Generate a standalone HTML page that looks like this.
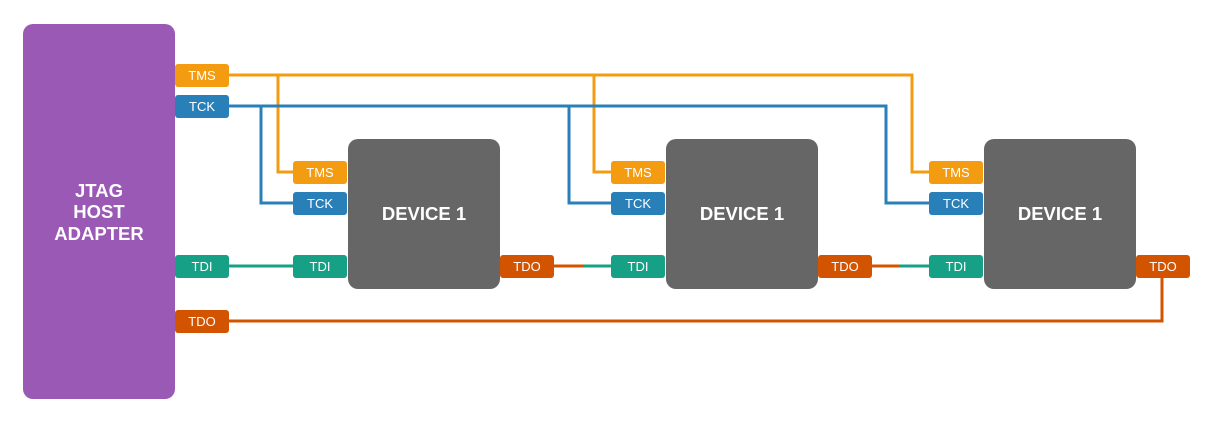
<!DOCTYPE html>
<html><head><meta charset="utf-8"><style>
body{margin:0;background:#fff;width:1210px;height:431px;overflow:hidden}
svg text{font-family:"Liberation Sans",sans-serif}
</style></head><body>
<svg width="1210" height="431" viewBox="0 0 1210 431">
<g fill="none" stroke-width="3">
<path d="M229 75H912V172H930M278 75V172H295M594 75V172H612" stroke="#f39c12"/>
<path d="M229 106H886V203H930M261 106V203H295M569 106V203H612" stroke="#2980b9"/>
<path d="M229 266H295" stroke="#16a085"/>
<path d="M554 266H583" stroke="#d35400"/><path d="M583 266H612" stroke="#16a085"/>
<path d="M871 266H900" stroke="#d35400"/><path d="M900 266H930" stroke="#16a085"/>
<path d="M1162 276V321H229" stroke="#d35400"/>
</g>
<rect x="23" y="24" width="152" height="375" rx="10" fill="#9b59b6"/>
<text x="99" y="197" fill="#fff" font-size="18.5" font-weight="bold" text-anchor="middle">JTAG</text>
<text x="99" y="218" fill="#fff" font-size="18.5" font-weight="bold" text-anchor="middle">HOST</text>
<text x="99" y="240" fill="#fff" font-size="18.5" font-weight="bold" text-anchor="middle">ADAPTER</text>
<g font-size="13" text-anchor="middle" fill="#fff">
<rect x="175" y="64" width="54" height="23" rx="3" fill="#f39c12"/><text x="202" y="80">TMS</text>
<rect x="175" y="95" width="54" height="23" rx="3" fill="#2980b9"/><text x="202" y="111">TCK</text>
<rect x="175" y="255" width="54" height="23" rx="3" fill="#16a085"/><text x="202" y="271">TDI</text>
<rect x="175" y="310" width="54" height="23" rx="3" fill="#d35400"/><text x="202" y="326">TDO</text>
</g>
<g id="d1">
<rect x="348" y="139" width="152" height="150" rx="10" fill="#666"/>
<text x="424" y="220" fill="#fff" font-size="18.5" font-weight="bold" text-anchor="middle">DEVICE 1</text>
<g font-size="13" text-anchor="middle" fill="#fff">
<rect x="293" y="161" width="54" height="23" rx="3" fill="#f39c12"/><text x="320" y="177">TMS</text>
<rect x="293" y="192" width="54" height="23" rx="3" fill="#2980b9"/><text x="320" y="208">TCK</text>
<rect x="293" y="255" width="54" height="23" rx="3" fill="#16a085"/><text x="320" y="271">TDI</text>
<rect x="500" y="255" width="54" height="23" rx="3" fill="#d35400"/><text x="527" y="271">TDO</text>
</g></g>
<use href="#d1" x="318"/>
<use href="#d1" x="636"/>
</svg>
</body></html>
